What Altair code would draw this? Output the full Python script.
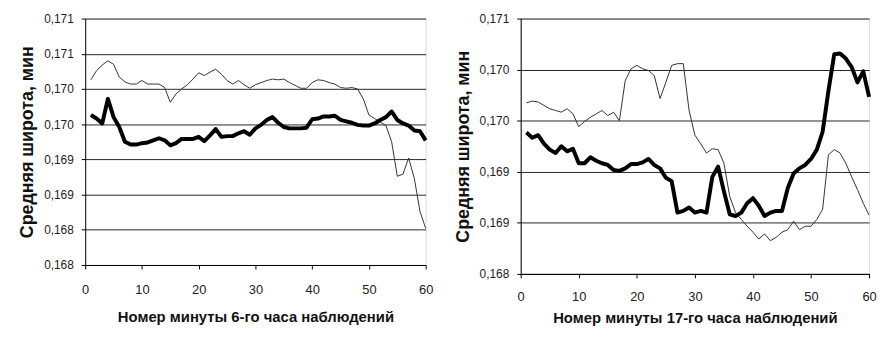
import altair as alt
import pandas as pd

minutes = list(range(1, 61))

# Left panel (6th hour)
left_thin = [0.17038, 0.17051, 0.17059, 0.17065, 0.17060, 0.17042, 0.17035, 0.17032, 0.17032, 0.17037,
             0.17032, 0.17032, 0.17032, 0.17027, 0.17006, 0.17018, 0.17025, 0.17031, 0.17039, 0.17048,
             0.17044, 0.17049, 0.17053, 0.17046, 0.17037, 0.17032, 0.17037, 0.17031, 0.17026, 0.17031,
             0.17034, 0.17037, 0.17039, 0.17038, 0.17039, 0.17034, 0.17030, 0.17026, 0.17026, 0.17034,
             0.17038, 0.17037, 0.17034, 0.17032, 0.17027, 0.17026, 0.17027, 0.17025, 0.17011, 0.16988,
             0.16983, 0.16978, 0.16973, 0.16950, 0.16901, 0.16904, 0.16927, 0.16898, 0.16851, 0.16827]
left_thick = [0.16988, 0.16983, 0.16976, 0.17011, 0.16985, 0.16971, 0.16950, 0.16946, 0.16946, 0.16948,
              0.16949, 0.16952, 0.16955, 0.16952, 0.16945, 0.16948, 0.16954, 0.16954, 0.16954, 0.16957,
              0.16951, 0.16959, 0.16968, 0.16957, 0.16958, 0.16958, 0.16962, 0.16965, 0.16960, 0.16969,
              0.16974, 0.16981, 0.16985, 0.16977, 0.16971, 0.16969, 0.16969, 0.16969, 0.16970, 0.16982,
              0.16983, 0.16986, 0.16986, 0.16987, 0.16981, 0.16979, 0.16977, 0.16974, 0.16973, 0.16973,
              0.16976, 0.16981, 0.16985, 0.16993, 0.16981, 0.16976, 0.16973, 0.16966, 0.16965, 0.16952]

# Right panel (17th hour)
right_thin = [0.17001, 0.17003, 0.17002, 0.16998, 0.16994, 0.16992, 0.16990, 0.16994, 0.16988, 0.16973,
              0.16979, 0.16984, 0.16988, 0.16992, 0.16986, 0.16990, 0.16980, 0.17027, 0.17041, 0.17045,
              0.17041, 0.17039, 0.17033, 0.17006, 0.17025, 0.17045, 0.17047, 0.17047, 0.16992, 0.16963,
              0.16953, 0.16942, 0.16947, 0.16946, 0.16930, 0.16891, 0.16872, 0.16864, 0.16856, 0.16849,
              0.16841, 0.16847, 0.16839, 0.16843, 0.16849, 0.16852, 0.16862, 0.16852, 0.16856, 0.16856,
              0.16864, 0.16876, 0.16940, 0.16946, 0.16942, 0.16930, 0.16914, 0.16899, 0.16883, 0.16869]
right_thick = [0.16966, 0.16960, 0.16963, 0.16953, 0.16946, 0.16942, 0.16950, 0.16944, 0.16947, 0.16930,
               0.16930, 0.16937, 0.16933, 0.16930, 0.16928, 0.16922, 0.16921, 0.16924, 0.16929, 0.16929,
               0.16931, 0.16935, 0.16928, 0.16924, 0.16913, 0.16909, 0.16872, 0.16874, 0.16878, 0.16872,
               0.16874, 0.16872, 0.16914, 0.16926, 0.16897, 0.16870, 0.16868, 0.16872, 0.16883, 0.16889,
               0.16880, 0.16868, 0.16872, 0.16874, 0.16874, 0.16901, 0.16918, 0.16924, 0.16928, 0.16935,
               0.16946, 0.16967, 0.17015, 0.17058, 0.17059, 0.17053, 0.17043, 0.17025, 0.17038, 0.17008]

x_ticks = [0, 10, 20, 30, 40, 50, 60]
left_y_ticks = [0.16775, 0.16825, 0.16875, 0.16925, 0.16975, 0.17025, 0.17075, 0.17125]
left_y_labels = ["0,168", "0,168", "0,169", "0,169", "0,170", "0,170", "0,171", "0,171"]
right_y_ticks = [0.1680, 0.1686, 0.1692, 0.1698, 0.1704, 0.1710]
right_y_labels = ["0,168", "0,169", "0,169", "0,170", "0,170", "0,171"]

y_title = "Средняя широта, мин"
left_x_title = "Номер минуты 6-го часа наблюдений"
right_x_title = "Номер минуты 17-го часа наблюдений"

FONT = "Liberation Sans, Arial"


def label_expr(ticks, labels):
    step = ticks[1] - ticks[0]
    arr = "[" + ",".join("'" + s + "'" for s in labels) + "]"
    return f"{arr}[round((datum.value - {ticks[0]}) / {step})]"


def panel(thin, thick, y_ticks, y_labels, x_title, w, h, lab_pad, title_pad):
    df = pd.DataFrame({"m": minutes * 2,
                       "v": thin + thick,
                       "s": ["thin"] * len(thin) + ["thick"] * len(thick)})
    x = alt.X("m:Q", title=x_title,
              scale=alt.Scale(domain=[0, 60], nice=False, zero=False),
              axis=alt.Axis(values=x_ticks, grid=False, labelFontSize=13, labelFont=FONT,
                            labelColor="#222", titleFont=FONT, titleFontSize=15,
                            titleFontWeight="bold", titleColor="#111",
                            domainColor="#000", tickColor="#000", tickSize=4,
                            labelPadding=lab_pad, titlePadding=title_pad, labelFlush=False))
    y = alt.Y("v:Q", title=y_title,
              scale=alt.Scale(domain=[y_ticks[0], y_ticks[-1]], nice=False, zero=False),
              axis=alt.Axis(values=y_ticks, labelExpr=label_expr(y_ticks, y_labels),
                            grid=True, gridColor="#000", gridWidth=1, gridOpacity=0.85,
                            labelFontSize=12, labelFont=FONT, labelColor="#222",
                            titleFont=FONT, titleFontSize=18, titleFontWeight="bold",
                            titleColor="#111", domainColor="#000", tickColor="#000",
                            tickSize=4, labelPadding=8, titlePadding=7, labelFlush=False))
    thin_line = alt.Chart(df).transform_filter(alt.datum.s == "thin").mark_line(
        color="#333333", strokeWidth=1).encode(x=x, y=y)
    thick_line = alt.Chart(df).transform_filter(alt.datum.s == "thick").mark_line(
        color="#000", strokeWidth=4, strokeJoin="round").encode(x=x, y=y)
    return alt.layer(thin_line, thick_line).properties(width=w, height=h)


left = panel(left_thin, left_thick, left_y_ticks, left_y_labels, left_x_title, 344, 249, 15, 13)
right = panel(right_thin, right_thick, right_y_ticks, right_y_labels, right_x_title, 352, 258, 13, 7)

chart = alt.hconcat(left, right, spacing=20).properties(
    padding={"left": 10, "top": 2, "right": 0, "bottom": 0}
).configure_view(stroke="#8f9078", strokeWidth=2).configure(background="white")

chart.save("out.html", embed_options={"renderer": "svg", "actions": False})
